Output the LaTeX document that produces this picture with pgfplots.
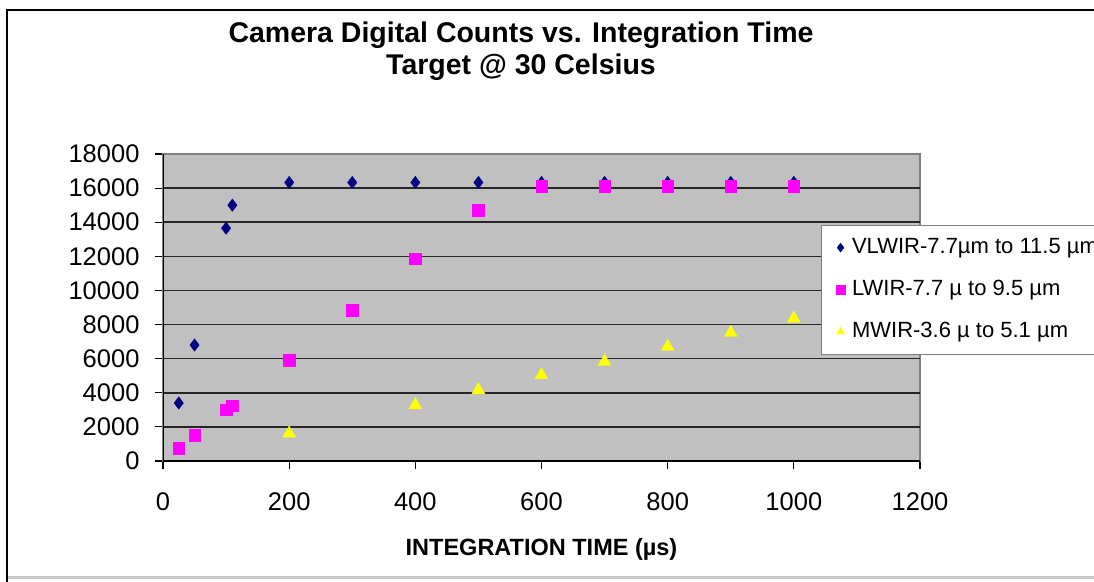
\documentclass[border=0pt]{standalone}
\usepackage{fontspec}
\setmainfont{Liberation Sans}
\usepackage{pgfplots}
\pgfplotsset{compat=1.18}
\definecolor{plotgray}{HTML}{C0C0C0}
\definecolor{navyc}{HTML}{000080}
\definecolor{magc}{HTML}{FF00FF}
\definecolor{yelc}{HTML}{FFFF00}
\newcommand\tickfont{\fontsize{25.5}{30}\selectfont}
\newcommand\labfont{\fontsize{23.5}{28}\selectfont\bfseries}
\newcommand\titlefont{\fontsize{28.5}{32}\selectfont\bfseries}
\newcommand\legfont{\fontsize{22}{26}\selectfont}
\begin{document}
\begin{tikzpicture}[x=1pt,y=1pt]
\useasboundingbox (0,0) rectangle (1094,581);
\fill[white] (0,0) rectangle (1094,581);
\begin{axis}[
  at={(163pt,120pt)}, anchor=south west,
  scale only axis, width=757pt, height=307pt,
  xmin=0, xmax=1200, ymin=0, ymax=18000,
  xtick={0,200,...,1200}, ytick={0,2000,...,18000},
  scaled ticks=false,
  /pgf/number format/assume math mode=true,
  /pgf/number format/1000 sep={},
  tick align=outside, tick pos=left, major tick length=8pt,
  tick style={black, line width=1.2pt},
  axis background/.style={fill=plotgray},
  axis line style={draw=gray, line width=1.2pt},
  extra y ticks={2000,4000,...,16000},
  extra y tick labels={},
  extra y tick style={ymajorgrids=true, major tick length=0pt},
  major grid style={black!85, line width=1.6pt},
  ticklabel style={font=\tickfont},
  xticklabel style={yshift=-20pt},
  yticklabel style={xshift=-12pt},
  xlabel={INTEGRATION TIME (µs)},
  xlabel style={font=\labfont, at={(axis description cs:0.5,0)}, anchor=base, yshift=-94pt},
  legend style={at={(0.869,0.769)}, anchor=north west, draw=gray, fill=white,
    font=\legfont, inner xsep=15pt, inner ysep=12pt, row sep=21pt,
    nodes={inner sep=0pt, text height=16pt, text depth=5pt},
    /tikz/every odd column/.append style={column sep=7pt}},
  legend cell align=left,
  legend image post style={mark size=4.5pt},
]
\addplot[only marks, mark=diamond*, mark size=6.2pt, color=navyc] coordinates {
  (25,3400) (50,6800) (100,13650) (110,15000) (200,16330) (300,16330)
  (400,16330) (500,16330) (600,16330) (700,16330) (800,16330) (900,16330) (1000,16330)};
\addlegendentry{VLWIR-7.7µm to 11.5 µm}
\addplot[only marks, mark=square*, mark size=5.8pt, color=magc] coordinates {
  (25,750) (50,1500) (100,3000) (110,3250) (200,5900) (300,8850) (400,11850)
  (500,14700) (600,16100) (700,16100) (800,16100) (900,16100) (1000,16100)};
\addlegendentry{LWIR-7.7 µ to 9.5 µm}
\addplot[only marks, mark=triangle*, mark size=7.5pt, color=yelc] coordinates {
  (200,1620) (400,3280) (500,4160) (600,5040) (700,5820) (800,6700) (900,7520) (1000,8360)};
\addlegendentry{MWIR-3.6 µ to 5.1 µm}
\draw[black, line width=1.5pt] (rel axis cs:0,1) -- (rel axis cs:0,0) -- (rel axis cs:1,0);
\end{axis}
\node[anchor=base, font=\titlefont] at (521,538) {Camera Digital Counts vs. Integration Time};
\node[anchor=base, font=\titlefont] at (521,506) {Target @ 30 Celsius};
\draw[black, line width=2.2pt] (7,-2) -- (7,571) -- (1100,571);
\draw[black!22, line width=2.5pt] (8,3.5) -- (1100,3.5);
\end{tikzpicture}
\end{document}
